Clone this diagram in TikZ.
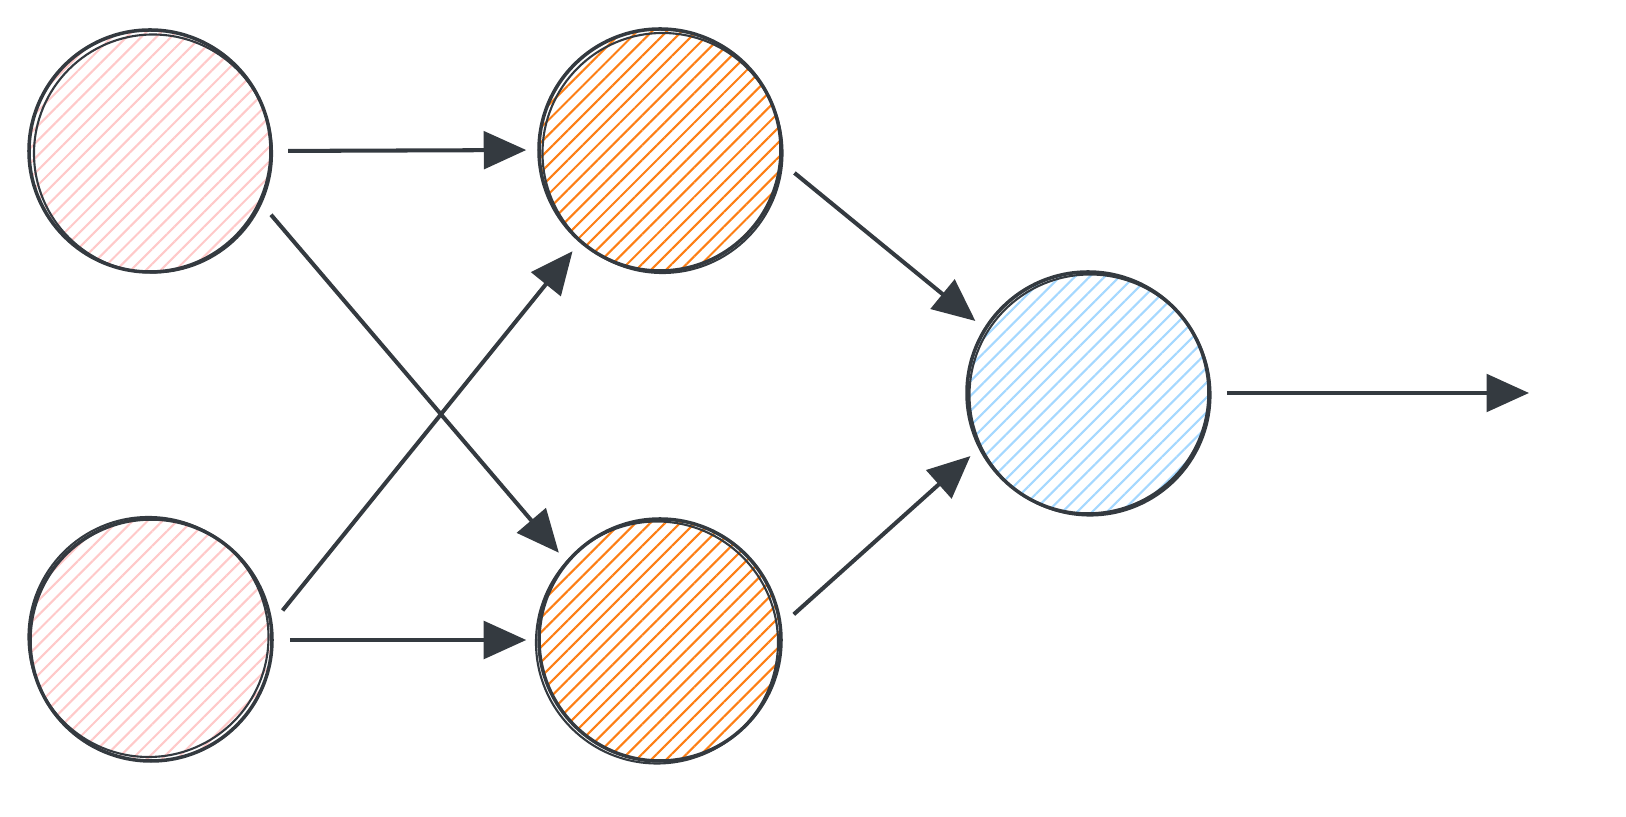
\documentclass[tikz,border=0pt]{standalone}
\usetikzlibrary{arrows.meta,patterns.meta}

\definecolor{ink}{HTML}{343A40}
\definecolor{inpink}{HTML}{FFC9C9}
\definecolor{hidorange}{HTML}{FD7E14}
\definecolor{outblue}{HTML}{A5D8FF}

\tikzset{
  neuron/.style={circle,draw=ink,line width=2pt,minimum size=4.84cm,inner sep=0pt,
    pattern={Lines[angle=45,distance=0.21cm,line width=1.2pt]},pattern color=#1},
  sketch/.style={draw=ink,line width=1.2pt},
  wire/.style={ink,line width=2.3pt,-{Triangle[length=0.85cm,width=0.75cm]},
    shorten <=0.32cm,shorten >=0.22cm}
}

\begin{document}
\begin{tikzpicture}
  \useasboundingbox (0,0) rectangle (32.52,16.34);

  \node[neuron=inpink] (in1) at (3.0, 13.32) {};
  \node[neuron=inpink] (in2) at (3.02, 3.54) {};
  \node[neuron=hidorange] (h1) at (13.2, 13.34) {};
  \node[neuron=hidorange] (h2) at (13.2, 3.54) {};
  \node[neuron=outblue] (out) at (21.76, 8.48) {};
  \coordinate (end) at (30.8, 8.48);

  \draw[sketch] ([shift={(0.06,-0.05)}]in1.center) circle (2.38cm);
  \draw[sketch] ([shift={(-0.05,0.06)}]in2.center) circle (2.4cm);
  \draw[sketch] ([shift={(0.05,-0.06)}]h1.center) circle (2.4cm);
  \draw[sketch] ([shift={(-0.06,-0.05)}]h2.center) circle (2.42cm);
  \draw[sketch] ([shift={(0.04,-0.04)}]out.center) circle (2.41cm);

  \draw[wire] (in1.0) -- (h1.180);
  \draw[wire] (in1.-25) -- (h2.140);
  \draw[wire] (in2.8) -- (h1.229);
  \draw[wire] (in2.0) -- (h2.180);
  \draw[wire] (h1.-6) -- (out.148);
  \draw[wire] (h2.7) -- (out.207);
  \draw[wire] (out.0) -- (end);
\end{tikzpicture}
\end{document}
